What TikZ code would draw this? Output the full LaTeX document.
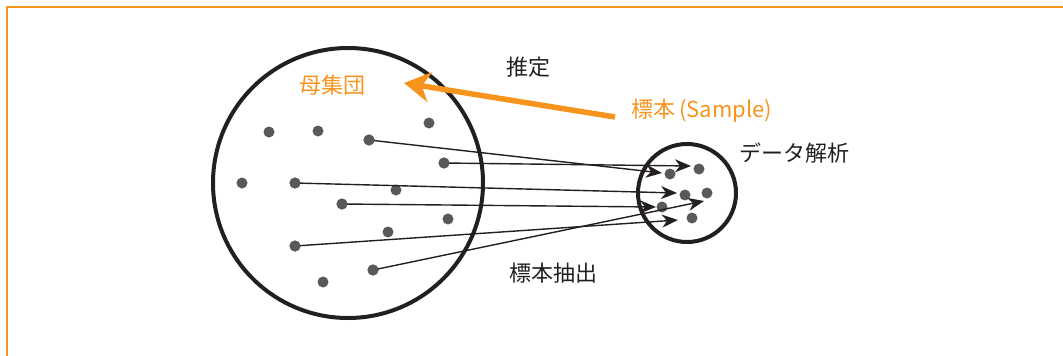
\documentclass[tikz,border=0pt]{standalone}
\usepackage{fontspec}
\setmainfont{Noto Sans CJK JP}
\usetikzlibrary{arrows.meta}
\definecolor{frameorange}{HTML}{F7941D}
\definecolor{dotgray}{HTML}{58595B}
\definecolor{inkblack}{HTML}{231F20}
\tikzset{
  dot/.style={circle,fill=dotgray,inner sep=0pt,minimum size=11pt},
  bigring/.style={circle,draw=inkblack,line width=4pt,inner sep=0pt},
  samplearrow/.style={draw=inkblack,line width=1.4pt,-{Stealth[length=16pt,width=13pt,inset=5pt]}},
  estarrow/.style={draw=frameorange,line width=5.5pt,-{Stealth[length=26pt,width=30pt,inset=8pt]}},
  lbl/.style={font=\fontsize{22}{26}\selectfont,text=inkblack,inner sep=0pt},
  olbl/.style={font=\fontsize{22}{26}\selectfont,text=frameorange,inner sep=0pt},
}
\begin{document}
\begin{tikzpicture}[x=1pt,y=-1pt]
\useasboundingbox (0,0) rectangle (1063,356);
\draw[frameorange,line width=2pt] (6.5,360) -- (6.5,6.5) -- (1070,6.5);
% circles
\node[bigring,minimum size=270pt] (pop) at (348,183) {};
\node[bigring,minimum size=98pt] (smp) at (687,193) {};
% labels
\node[olbl] (poplbl) at (332,85) {母集団};
\node[lbl] (est) at (528,67) {推定};
\node[olbl] (sample) at (702,111) {標本\,(Sample)};
\node[lbl] (ana) at (794,153) {データ解析};
\node[lbl] (ext) at (553,273) {標本抽出};
% estimation arrow
\coordinate (etail) at (615,117);
\coordinate (etip) at (404,83);
\draw[estarrow] (etail) -- (etip);
% arrow tips
\coordinate (t1) at (662,173);
\coordinate (t2) at (691,166);
\coordinate (t3) at (677,193);
\coordinate (t4) at (656,207);
\coordinate (t5) at (678,220);
\coordinate (t6) at (704,201);
% population dots
\node[dot] (p1) at (269,132) {};
\node[dot] (p2) at (318,131) {};
\node[dot] (p3) at (369,140) {};
\node[dot] (p4) at (429,123) {};
\node[dot] (p5) at (444,163) {};
\node[dot] (p6) at (242,183) {};
\node[dot] (p7) at (295,183) {};
\node[dot] (p8) at (396,190) {};
\node[dot] (p9) at (342,204) {};
\node[dot] (p10) at (448,219) {};
\node[dot] (p11) at (388,232) {};
\node[dot] (p12) at (295,246) {};
\node[dot] (p13) at (373,270) {};
\node[dot] (p14) at (323,282) {};
% sample dots
\node[dot] (s1) at (699,169) {};
\node[dot] (s2) at (670,174) {};
\node[dot] (s3) at (685,195) {};
\node[dot] (s4) at (707,193) {};
\node[dot] (s5) at (662,207) {};
\node[dot] (s6) at (692,218) {};
% sampling arrows
\draw[samplearrow] (p3.center) -- (t1);
\draw[samplearrow] (p5.center) -- (t2);
\draw[samplearrow] (p7.center) -- (t3);
\draw[samplearrow] (p9.center) -- (t4);
\draw[samplearrow] (p12.center) -- (t5);
\draw[samplearrow] (p13.center) -- (t6);
% redraw source dots on top
\foreach \p in {p3,p5,p7,p9,p12,p13}{\fill[dotgray] (\p) circle (5.5pt);}
\end{tikzpicture}
\end{document}
